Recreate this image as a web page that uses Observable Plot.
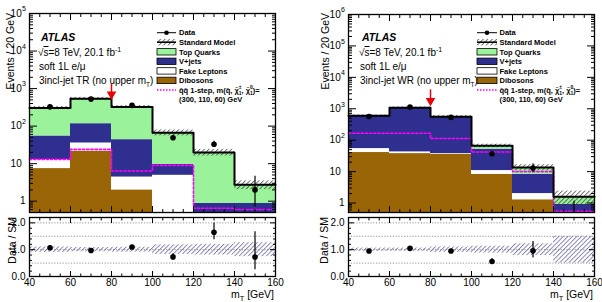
<!DOCTYPE html>
<html>
<head>
<meta charset="utf-8">
<script src="https://cdn.jsdelivr.net/npm/d3@7"></script>
<script src="https://cdn.jsdelivr.net/npm/@observablehq/plot@0.6"></script>
<style>
  body { margin: 0; background: #fff; }
  #chart { position: relative; width: 602px; height: 302px; overflow: hidden; background: #fff; }
  #chart svg { position: absolute; overflow: visible; }
</style>
</head>
<body>
<div id="chart"></div>
<script>
const FONT = '"Liberation Sans", Arial, Helvetica, sans-serif';
const NS = "http://www.w3.org/2000/svg";

// m_T binning [GeV]
const binEdges = [40, 60, 80, 100, 120, 140, 160];
const xTickLabels = [40, 60, 80, 100, 120, 140, 160];
const ratioTickLabels = [0, 1, 2];
const ratioGrid = [0.5, 1, 1.5, 2];

// Legend
const legendLabels = ["Data", "Standard Model", "Top Quarks", "V+jets", "Fake Leptons", "Dibosons"];
const colTop = "#9af29a";
const colVjets = "#2f2f8f";
const colFake = "#ffffff";
const colDibosons = "#9a6506";
const colSignal = "#ff00ff";
const colArrow = "#e8000b";

// 3incl-jet TR: background composition per bin
const trDibosons = [7.4, 21.7, 2.0, 0, 0, 0];
const trFake     = [5.5, 13.8, 2.4, 4.9, 0, 0];
const trVjets    = [41.7, 80.5, 39.2, 4.6, 0.88, 0.87];
const trTop      = [250, 424, 281, 57.5, 19.1, 1.88];
const trUnc      = [0.10, 0.08, 0.09, 0.18, 0.20, 0.26];
const trData     = [326, 524, 357, 49, 33, 2];
const trDataLo   = [18, 23, 19, 7, 5.7, 1.3];
const trDataHi   = [19, 24, 20, 8, 6.8, 2.6];
const trSignal   = [13, 24, 6.4, 9, 0.65, 0.6];
const trArrow    = { x: 80, from: 1300, to: 700 };

// 3incl-jet WR: background composition per bin
const wrDibosons = [40.5, 37.5, 36, 8.2, 1.27, 0];
const wrFake     = [13.5, 4.9, 1.5, 2.6, 0.73, 0];
const wrVjets    = [516, 1028, 508, 41, 6.2, 0.9];
const wrTop      = [30, 10, 14.5, 14.2, 5.4, 0.7];
const wrUnc      = [0.06, 0.06, 0.10, 0.13, 0.22, 0.50];
const wrData     = [570, 1134, 532, 37, 13, 0];
const wrDataLo   = [24, 34, 23, 6, 3.6, 0];
const wrDataHi   = [25, 35, 24, 7, 4.7, 1.15];
const wrSignal   = [167, 167, 113, 42, 10, 0.55];
const wrArrow    = { x: 80, from: 4000, to: 1800 };

const yMin = 0.5;
const nBins = binEdges.length - 1;
const bins = d3.range(nBins).map(i => ({ i, lo: binEdges[i], hi: binEdges[i + 1], c: (binEdges[i] + binEdges[i + 1]) / 2 }));
const xMajor = xTickLabels;
const xMinor = d3.range(40, 161, 5).filter(v => v % 20 !== 0);

function totalsOf(cfg) {
  return bins.map(b => cfg.dib[b.i] + cfg.fake[b.i] + cfg.vjets[b.i] + cfg.top[b.i]);
}
function stepPoints(vals) {
  return binEdges.map((e, k) => ({ x: e, y: vals[Math.min(k, nBins - 1)] }));
}
function overlay(markup) {
  return () => {
    const g = document.createElementNS(NS, "g");
    g.setAttribute("text-anchor", "start");
    g.innerHTML = markup;
    return g;
  };
}
function hatchDef(id, color, width) {
  return `<defs><pattern id="${id}" patternUnits="userSpaceOnUse" width="3.2" height="3.2" patternTransform="rotate(45)">
    <line x1="0.5" y1="0" x2="0.5" y2="3.2" stroke="${color}" stroke-width="${width}"/></pattern></defs>`;
}
function tickMarks(xMaj, xMin, yMaj, yMin_, lx, ly) {
  const none = () => "";
  return [
    Plot.axisX({ anchor: "bottom", ticks: xMaj, tickSize: -lx, tickFormat: none, label: null }),
    Plot.axisX({ anchor: "bottom", ticks: xMin, tickSize: -lx / 2, tickFormat: none, label: null }),
    Plot.axisX({ anchor: "top", ticks: xMaj, tickSize: -lx, tickFormat: none, label: null }),
    Plot.axisX({ anchor: "top", ticks: xMin, tickSize: -lx / 2, tickFormat: none, label: null }),
    Plot.axisY({ anchor: "left", ticks: yMaj, tickSize: -ly, tickFormat: none, label: null }),
    Plot.axisY({ anchor: "left", ticks: yMin_, tickSize: -ly / 2, tickFormat: none, label: null }),
    Plot.axisY({ anchor: "right", ticks: yMaj, tickSize: -ly, tickFormat: none, label: null }),
    Plot.axisY({ anchor: "right", ticks: yMin_, tickSize: -ly / 2, tickFormat: none, label: null })
  ];
}
function legendMarkup(x0, x1, tx, hatchId) {
  const rows = [32.7, 42.2, 51.8, 61.3, 70.9, 80.4, 90, 99.3];
  const w = x1 - x0, h = 6.4, xm = (x0 + x1) / 2;
  const box = (y, fill) => `<rect x="${x0}" y="${y - h / 2}" width="${w}" height="${h}" fill="${fill}" stroke="black" stroke-width="0.8"/>`;
  let s = "";
  s += `<line x1="${x0}" x2="${x1}" y1="${rows[0]}" y2="${rows[0]}" stroke="black" stroke-width="1"/>`;
  s += `<circle cx="${xm}" cy="${rows[0]}" r="2.3" fill="black"/>`;
  s += `<rect x="${x0}" y="${rows[1] - h / 2}" width="${w}" height="${h}" fill="url(#${hatchId})"/>`;
  s += `<line x1="${x0}" x2="${x1}" y1="${rows[1]}" y2="${rows[1]}" stroke="black" stroke-width="1.6"/>`;
  s += box(rows[2], colTop) + box(rows[3], colVjets) + box(rows[4], colFake) + box(rows[5], colDibosons);
  s += `<line x1="${x0}" x2="${x1}" y1="${rows[6]}" y2="${rows[6]}" stroke="${colSignal}" stroke-width="1.4" stroke-dasharray="1.5,1.5"/>`;
  legendLabels.forEach((t, k) => {
    s += `<text x="${tx}" y="${rows[k]}" dy="0.36em" font-weight="bold" font-size="7.5">${t}</text>`;
  });
  s += `<text x="${tx}" y="${rows[6] + 2.6}" font-weight="bold" font-size="7.5">q̃q̃ 1-step, m(q̃, χ̃<tspan dy="2" font-size="5">1</tspan><tspan dx="-2.8" dy="-5.5" font-size="5">±</tspan><tspan dy="3.5">, χ̃</tspan><tspan dy="2" font-size="5">1</tspan><tspan dx="-2.8" dy="-5.5" font-size="5">0</tspan><tspan dy="3.5">)=</tspan></text>`;
  s += `<text x="${tx}" y="${rows[7] + 2.6}" font-weight="bold" font-size="7.5">(300, 110, 60) GeV</text>`;
  return s;
}
function annotationMarkup(x, region) {
  return `<text x="${x + 3}" y="40.5" font-weight="bold" font-style="italic" font-size="10.5">ATLAS</text>
    <text x="${x}" y="56" font-size="10">√<tspan text-decoration="overline">s</tspan>=8 TeV, 20.1 fb<tspan dy="-4" font-size="7">-1</tspan></text>
    <text x="${x + 1}" y="70" font-size="10">soft 1L e/μ</text>
    <text x="${x + 1}" y="84" font-size="10">3incl-jet ${region} (no upper m<tspan dy="2.5" font-size="6.5">T</tspan><tspan dy="-2.5">)</tspan></text>`;
}

function mainPanel(cfg) {
  const totals = totalsOf(cfg);
  const comps = [[cfg.dib, colDibosons], [cfg.fake, colFake], [cfg.vjets, colVjets], [cfg.top, colTop]];
  const cum = bins.map(() => 0);
  const stackMarks = comps.map(([vals, color]) => {
    const rects = [];
    bins.forEach(b => {
      const y1 = cum[b.i], y2 = y1 + vals[b.i];
      cum[b.i] = y2;
      if (vals[b.i] > 0 && y2 > yMin) rects.push({ x1: b.lo, x2: b.hi, y1: Math.max(y1, yMin), y2 });
    });
    return Plot.rect(rects, { x1: "x1", x2: "x2", y1: "y1", y2: "y2", fill: color });
  });
  const pts = bins.map(b => ({
    x: b.c, n: cfg.data[b.i],
    lo: Math.max(cfg.data[b.i] - cfg.lo[b.i], yMin),
    hi: cfg.data[b.i] + cfg.hi[b.i]
  }));
  const decades = d3.range(0, Math.round(Math.log10(cfg.yMax)) + 1).map(e => 10 ** e);
  const minors = [];
  for (let e = -1; 10 ** e < cfg.yMax; e++) {
    for (let m = 2; m < 10; m++) {
      const v = +(m * 10 ** e).toPrecision(3);
      if (v >= yMin && v < cfg.yMax) minors.push(v);
    }
  }
  const hid = "hatch" + cfg.region;
  const svg = Plot.plot({
    width: cfg.width, height: 214,
    marginLeft: cfg.marginLeft, marginRight: cfg.marginRight, marginTop: cfg.marginTop, marginBottom: 2,
    style: { fontFamily: FONT, fontSize: "10px", background: "transparent", color: "black", overflow: "visible" },
    x: { domain: [40, 160], axis: null },
    y: { type: "log", domain: [yMin, cfg.yMax], axis: null },
    marks: [
      overlay(hatchDef(hid, "#333", 0.7)),
      ...stackMarks,
      Plot.line(stepPoints(cfg.signal), { x: "x", y: "y", curve: "step-after", stroke: colSignal, strokeWidth: 1.6, strokeDasharray: "2.2,2" }),
      Plot.rect(bins, { x1: "lo", x2: "hi", y1: b => totals[b.i] * (1 - cfg.unc[b.i]), y2: b => totals[b.i] * (1 + cfg.unc[b.i]), fill: `url(#${hid})` }),
      Plot.line(stepPoints(totals), { x: "x", y: "y", curve: "step-after", stroke: "black", strokeWidth: 2 }),
      Plot.ruleX(pts, { x: "x", y1: "lo", y2: "hi", stroke: "black", strokeWidth: 1.2 }),
      Plot.dot(pts.filter(p => p.n > 0), { x: "x", y: "n", r: 2.8, fill: "black", stroke: "none" }),
      Plot.ruleX([cfg.arrow], { x: "x", y1: "from", y2: "to", stroke: colArrow, strokeWidth: 1.5 }),
      Plot.dot([cfg.arrow], { x: "x", y: "to", symbol: "triangle", rotate: 180, r: 2.6, fill: colArrow, stroke: colArrow }),
      ...tickMarks(xMajor, xMinor, decades, minors, 6, 8),
      Plot.text(decades.filter(d => d < 10), { y: d => d, text: d => String(d), frameAnchor: "left", textAnchor: "end", dx: -4, fontSize: 10 }),
      Plot.text(decades.filter(d => d >= 10), { y: d => d, text: () => "10", frameAnchor: "left", textAnchor: "end", dx: -7.8, fontSize: 10 }),
      Plot.text(decades.filter(d => d >= 100), { y: d => d, text: d => String(Math.round(Math.log10(d))), frameAnchor: "left", textAnchor: "start", dx: -7.5, dy: -4.5, fontSize: 7 }),
      Plot.frame({ stroke: "black", strokeWidth: 1.3 }),
      overlay(`<text transform="translate(${cfg.titleX},13) rotate(-90)" text-anchor="end" font-size="10.5">Events / 20 GeV</text>`
        + annotationMarkup(cfg.textX, cfg.region)
        + legendMarkup(cfg.legX0, cfg.legX1, cfg.legTx, hid))
    ]
  });
  return svg;
}

function ratioPanel(cfg) {
  const totals = totalsOf(cfg);
  const pts = bins.filter(b => cfg.data[b.i] > 0).map(b => ({
    x: b.c,
    r: cfg.data[b.i] / totals[b.i],
    lo: (cfg.data[b.i] - cfg.lo[b.i]) / totals[b.i],
    hi: (cfg.data[b.i] + cfg.hi[b.i]) / totals[b.i]
  }));
  const rid = "rhatch" + cfg.region;
  const yMinorTicks = d3.range(0.2, 2.2, 0.2).map(v => +v.toFixed(1)).filter(v => v !== 1 && v !== 2);
  return Plot.plot({
    width: cfg.width, height: 88,
    marginLeft: cfg.marginLeft, marginRight: cfg.marginRight, marginTop: 3, marginBottom: 26,
    style: { fontFamily: FONT, fontSize: "10px", background: "transparent", color: "black", overflow: "visible" },
    x: { domain: [40, 160], axis: null },
    y: { domain: [0, 2.2], axis: null },
    marks: [
      overlay(hatchDef(rid, "#6d6da3", 0.8)),
      Plot.rect(bins, { x1: "lo", x2: "hi", y1: b => 1 - cfg.unc[b.i], y2: b => 1 + cfg.unc[b.i], fill: `url(#${rid})` }),
      Plot.ruleY(ratioGrid, { stroke: "#777", strokeWidth: 0.8, strokeDasharray: "1.2,1.6" }),
      Plot.ruleX(pts, { x: "x", y1: "lo", y2: "hi", stroke: "black", strokeWidth: 1.2 }),
      Plot.dot(pts, { x: "x", y: "r", r: 2.8, fill: "black", stroke: "none" }),
      ...tickMarks(xMajor, xMinor, ratioTickLabels, yMinorTicks, 5, 6),
      Plot.axisX({ anchor: "bottom", ticks: xTickLabels, tickSize: 0, tickPadding: 2, label: null, fontSize: 10 }),
      Plot.axisY({ anchor: "left", ticks: ratioTickLabels, tickSize: 0, tickPadding: 4, label: null, fontSize: 10 }),
      Plot.frame({ stroke: "black", strokeWidth: 1.3 }),
      overlay(`<text transform="translate(${cfg.titleX},3) rotate(-90)" text-anchor="end" font-size="10.5">Data / SM</text>
        <text x="${cfg.width - cfg.marginRight - 1}" y="84" text-anchor="end" font-size="10.5">m<tspan dy="2.6" font-size="7.5">T</tspan><tspan dy="-2.6"> [GeV]</tspan></text>`)
    ]
  });
}

const tr = {
  region: "TR", width: 300, marginLeft: 29, marginRight: 25, marginTop: 13, yMax: 1e5,
  dib: trDibosons, fake: trFake, vjets: trVjets, top: trTop, unc: trUnc,
  data: trData, lo: trDataLo, hi: trDataHi, signal: trSignal, arrow: trArrow,
  titleX: 14, textX: 38, legX0: 157, legX1: 176, legTx: 179
};
const wr = {
  region: "WR", width: 302, marginLeft: 48, marginRight: 8, marginTop: 14, yMax: 1e6,
  dib: wrDibosons, fake: wrFake, vjets: wrVjets, top: wrTop, unc: wrUnc,
  data: wrData, lo: wrDataLo, hi: wrDataHi, signal: wrSignal, arrow: wrArrow,
  titleX: 29, textX: 59, legX0: 177, legX1: 197, legTx: 199.5
};

const chart = document.getElementById("chart");
function place(svg, left, top) {
  svg.style.left = left + "px";
  svg.style.top = top + "px";
  chart.appendChild(svg);
}
place(mainPanel(tr), 0, 0);
place(ratioPanel({ ...tr, titleX: 16 }), 0, 214);
place(mainPanel(wr), 300, 0);
place(ratioPanel({ ...wr, titleX: 28 }), 300, 214);
</script>
</body>
</html>
